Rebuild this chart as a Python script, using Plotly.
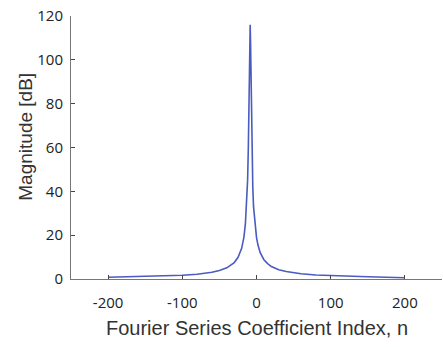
import plotly.graph_objects as go

# Fourier series coefficient index and magnitude (dB)
n_index = [-200, -175, -150, -125, -100, -80, -60, -50, -40, -30, -25, -20, -17, -15,
           -13, -12, -11, -10, -9.5, -9, -8.5, -8, -7.5, -7, -6, -5, -4, -2, 0, 2,
           5, 10, 15, 20, 30, 40, 50, 60, 80, 100, 125, 150, 175, 200]
magnitude_db = [0.8, 1.0, 1.2, 1.4, 1.7, 2.2, 3.1, 3.9, 5.1, 7.5, 9.8, 14, 19, 25,
                35, 45, 60, 80, 98, 110, 116, 108, 92, 75, 55, 42, 33, 24, 19, 15.5,
                12, 8.8, 7.0, 5.7, 4.2, 3.4, 2.8, 2.4, 1.8, 1.5, 1.2, 1.0, 0.8, 0.6]

x_ticks = [-200, -100, 0, 100, 200]
y_ticks = [0, 20, 40, 60, 80, 100, 120]

fig = go.Figure()
fig.add_trace(go.Scatter(
    x=n_index, y=magnitude_db, mode="lines",
    line=dict(color="#4a5cbf", width=1.6),
    hoverinfo="skip", showlegend=False,
))

axis_color = "#777777"
tick_font = dict(family="Open Sans", size=15, color="#222222")

fig.update_layout(
    width=443, height=347,
    margin=dict(l=71, r=1, t=16, b=68, autoexpand=False),
    paper_bgcolor="white", plot_bgcolor="white",
    xaxis=dict(
        range=[-250, 250], tickvals=x_ticks, ticktext=[str(v) for v in x_ticks],
        showgrid=False, zeroline=False, showline=True, linecolor=axis_color,
        linewidth=1, ticks="inside", ticklen=4, tickcolor="#444444",
        tickfont=tick_font, ticklabelstandoff=10, automargin=False,
        ticklabeloverflow="allow",
    ),
    yaxis=dict(
        range=[0, 120], tickvals=y_ticks, ticktext=[str(v) for v in y_ticks],
        showgrid=False, zeroline=False, showline=True, linecolor=axis_color,
        linewidth=1, ticks="inside", ticklen=4, tickcolor="#444444",
        tickfont=tick_font, ticklabelstandoff=4, automargin=False,
        ticklabeloverflow="allow",
    ),
    annotations=[
        dict(text="Fourier Series Coefficient Index, n", xref="paper", yref="paper",
             x=0.5, y=-0.188, yanchor="middle", xanchor="center", showarrow=False,
             font=dict(family="Liberation Sans", size=20, color="#333333")),
        dict(text="Magnitude [dB]", xref="paper", yref="paper",
             x=-0.122, y=0.54, xanchor="center", yanchor="middle", showarrow=False,
             textangle=-90,
             font=dict(family="Liberation Sans", size=19, color="#333333")),
    ],
)

# remove the browser's default 8px body margin so the figure fills the window
fig.write_html("out.html", config={"displayModeBar": False},
               post_script="document.body.style.margin='0px';")
